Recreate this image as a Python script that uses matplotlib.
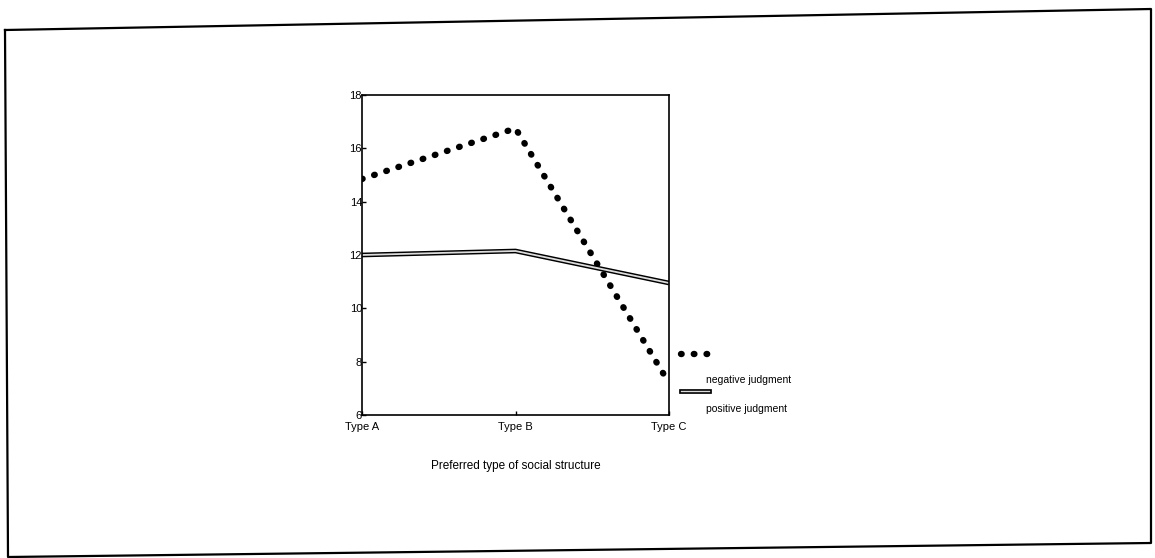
import matplotlib.pyplot as plt
from matplotlib.lines import Line2D

plt.rcParams['font.family'] = ['Liberation Sans', 'DejaVu Sans']

categories = ["Type A", "Type B", "Type C"]
negative = [14.85, 16.75, 7.2]
positive = [12.0, 12.15, 10.95]
yticks = [6, 8, 10, 12, 14, 16, 18]

fig = plt.figure(figsize=(11.55, 5.58), dpi=100)

# scanned page frame, slightly skewed
frame = Line2D([5 / 1155, 1151 / 1155, 1151 / 1155, 8 / 1155, 5 / 1155],
               [1 - 30 / 558, 1 - 9 / 558, 1 - 543 / 558, 1 - 557 / 558, 1 - 30 / 558],
               transform=fig.transFigure, color="black", lw=1.6)
fig.add_artist(frame)

ax = fig.add_axes([362 / 1155, 1 - 415 / 558, 307 / 1155, 320 / 558])
x = range(len(categories))

ax.plot(x, negative, color="black", lw=4.6, linestyle=(0, (0.1, 1.9)),
        dash_capstyle="round")
ax.plot(x, positive, color="black", lw=3.4, solid_capstyle="butt")
ax.plot(x, positive, color="#dcdcdc", lw=1.3, solid_capstyle="butt")

ax.set_xlim(0, 2)
ax.set_ylim(6, 18)
ax.set_yticks(yticks)
ax.set_yticklabels([str(v) for v in yticks], fontsize=8)
ax.set_xticks(list(x))
ax.set_xticklabels(categories, fontsize=8)
ax.tick_params(axis="both", length=3, width=1, direction="in")
ax.tick_params(axis="y", pad=0)
ax.tick_params(axis="x", pad=5)
for s in ax.spines.values():
    s.set_linewidth(1.2)
ax.set_xlabel("Preferred type of social structure", fontsize=8.5, labelpad=20)

# legend keys drawn beside the axes
ax.add_line(Line2D([1.04, 1.13], [0.19, 0.19], transform=ax.transAxes, clip_on=False,
                   color="black", lw=4.6, linestyle=(0, (0.1, 1.9)), dash_capstyle="round"))
ax.add_line(Line2D([1.04, 1.13], [0.075, 0.075], transform=ax.transAxes, clip_on=False,
                   color="black", lw=3.4))
ax.add_line(Line2D([1.04, 1.13], [0.075, 0.075], transform=ax.transAxes, clip_on=False,
                   color="#dcdcdc", lw=1.0))
ax.text(1.12, 0.11, "negative judgment", transform=ax.transAxes, fontsize=7.5, va="center")
ax.text(1.12, 0.02, "positive judgment", transform=ax.transAxes, fontsize=7.5, va="center")

fig.savefig("out.png", dpi=100)
